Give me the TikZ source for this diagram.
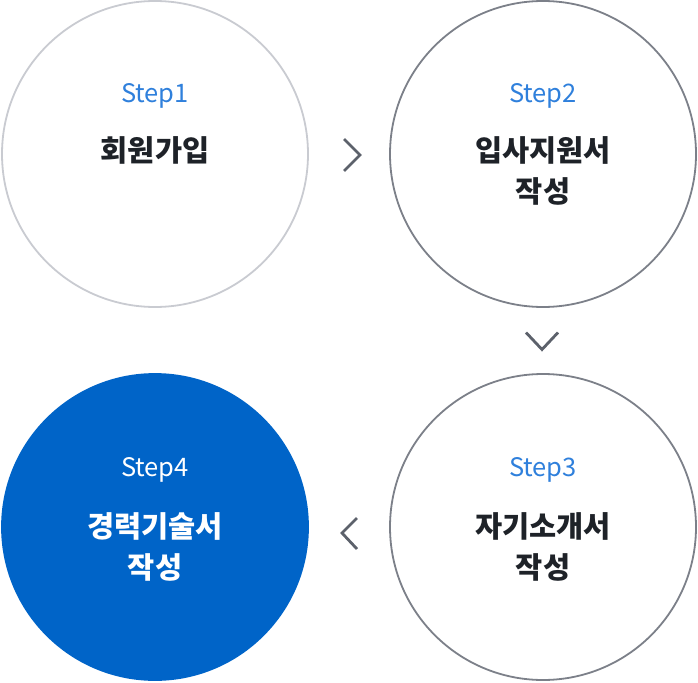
\documentclass[tikz,border=0pt]{standalone}
\usepackage{fontspec}
\setmainfont{Noto Sans CJK KR}
\usepackage{tikz}
\usetikzlibrary{positioning, calc}
\definecolor{stepblue}{HTML}{2F80DC}
\definecolor{fillblue}{HTML}{0064C8}
\definecolor{lightring}{HTML}{C9CBD1}
\definecolor{darkring}{HTML}{7C8089}
\definecolor{chevcolor}{HTML}{5C616B}
\definecolor{titlecolor}{HTML}{1E2228}

\begin{document}
\begin{tikzpicture}[
  x=1pt, y=1pt,
  node distance=82pt and 82pt,
  circ/.style={
    circle, minimum size=306pt, inner sep=0pt, outer sep=0pt,
    line width=1.8pt, fill=white
  },
  stepno/.style={font=\fontsize{25.5}{30}\selectfont, inner sep=0pt},
  title/.style={font=\fontsize{29.5}{41}\selectfont\bfseries, align=center,
    inner sep=0pt, text=titlecolor},
  chev/.style={line width=2.8pt, chevcolor, line join=miter},
]
  \useasboundingbox (0,0) rectangle (698,-682);

  % Circles
  \node[circ, draw=lightring] (step1) at (155,-154) {};
  \node[circ, draw=darkring, right=of step1] (step2) {};
  \node[circ, draw=darkring, below=67pt of step2] (step3) {};
  \node[circ, draw=fillblue, fill=fillblue, left=of step3] (step4) {};

  % Texts
  \node[stepno, text=stepblue] (no1) at ($(step1)+(0,58)$) {Step1};
  \node[title] (tt1) at ($(step1)+(0,4)$) {회원가입};

  \node[stepno, text=stepblue] (no2) at ($(step2)+(0,58)$) {Step2};
  \node[title] (tt2) at ($(step2)+(0,-17)$) {입사지원서\\작성};

  \node[stepno, text=stepblue] (no3) at ($(step3)+(0,57)$) {Step3};
  \node[title] (tt3) at ($(step3)+(0,-20)$) {자기소개서\\작성};

  \node[stepno, text=white] (no4) at ($(step4)+(0,57)$) {Step4};
  \node[title, text=white] (tt4) at ($(step4)+(0,-20)$) {경력기술서\\작성};

  % Chevrons
  \coordinate (c12) at ($(step1.east)!0.5!(step2.west)$);
  \coordinate (c23) at ($(step2.south)!0.5!(step3.north)$);
  \coordinate (c34) at ($(step3.west)!0.5!(step4.east)$);

  \draw[chev] ($(c12)+(-5,15)$) -- ($(c12)+(11,-1)$) -- ($(c12)+(-5,-17)$);
  \draw[chev] ($(c23)+(-17,8)$) -- ($(c23)+(-1,-9)$) -- ($(c23)+(15,8)$);
  \draw[chev] ($(c34)+(8,9)$) -- ($(c34)+(-7,-6)$) -- ($(c34)+(8,-22)$);
\end{tikzpicture}
\end{document}
